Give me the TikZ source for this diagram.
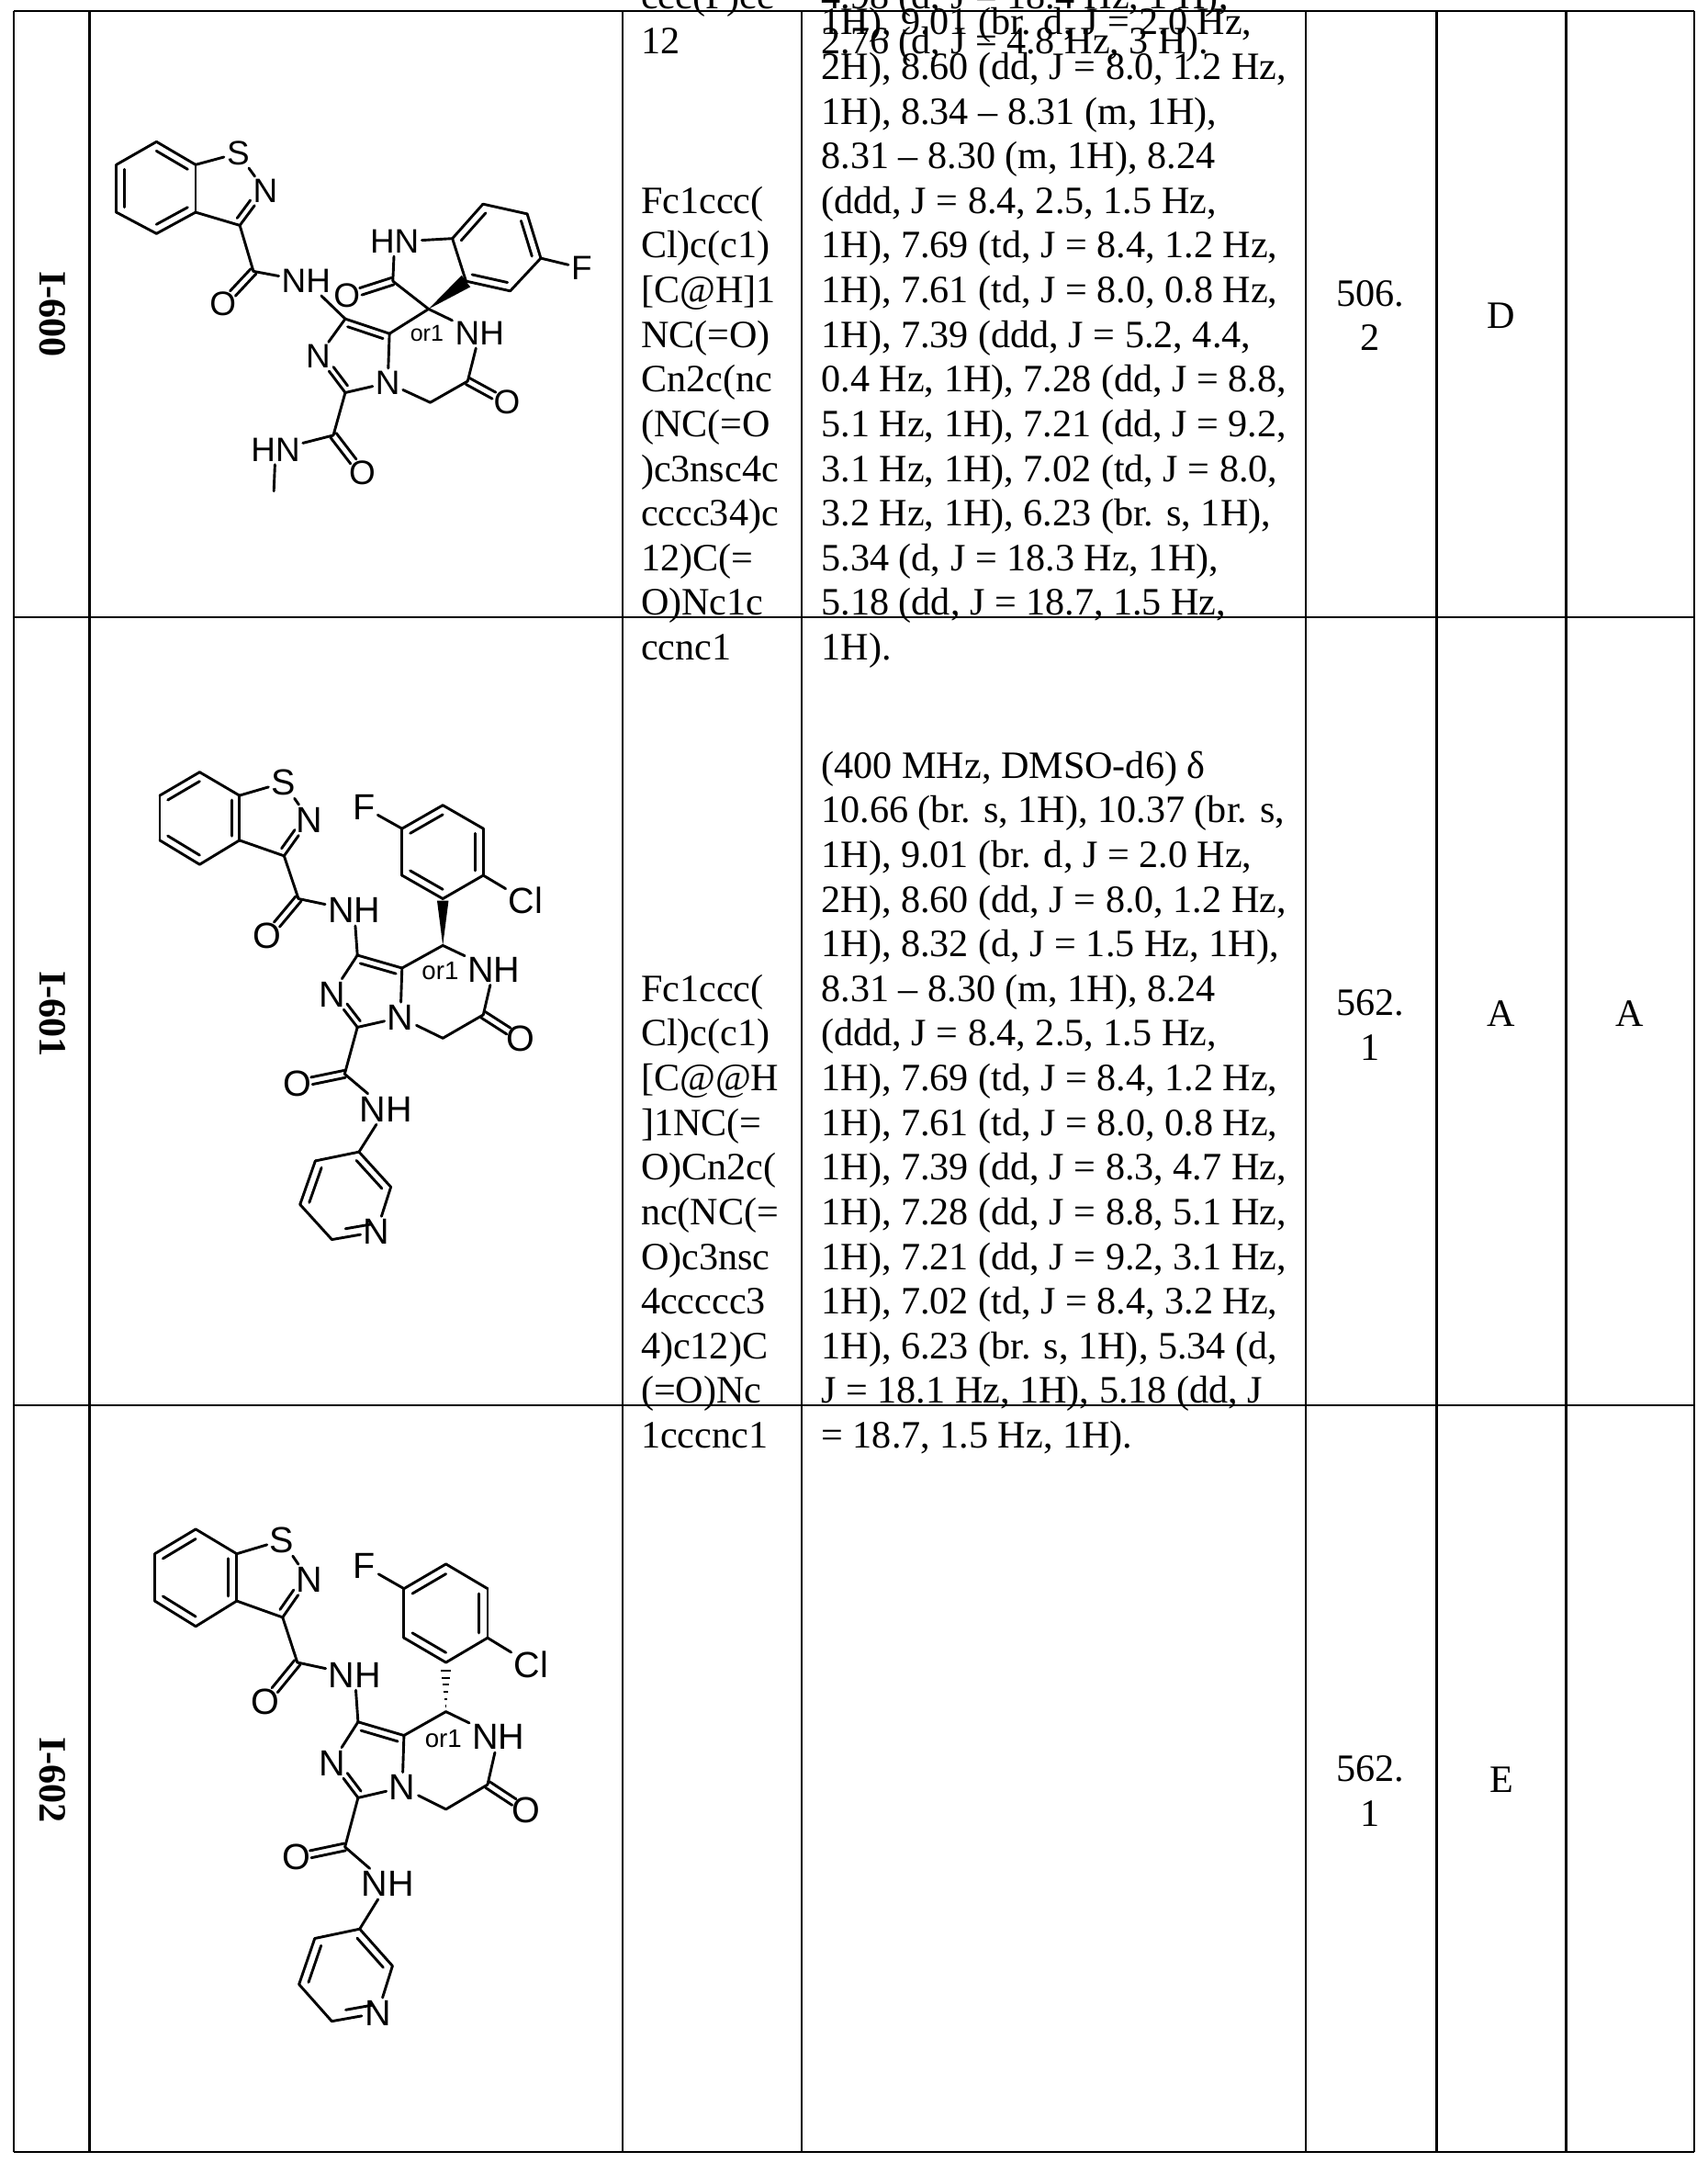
\documentclass[tikz,border=0pt]{standalone}
\usepackage{fontspec}
\setmainfont{Liberation Serif}
\newfontfamily\atomfont{Liberation Sans}
\usetikzlibrary{calc}
\usetikzlibrary{positioning}

% bonds of the structures
\newcommand{\bnd}[2]{\draw[bond line] (#1) -- (#2);}
\newcommand{\ringdbl}[5]{\draw[bond line] (#1) -- (#2);
  \coordinate (ia) at ($(#1)!0.2!(#3)$);
  \coordinate (ib) at ($(#2)!0.2!(#3)$);
  \draw[bond line] ($(ia)!#4!(ib)$) -- ($(ia)!#5!(ib)$);}
\newcommand{\chaindbl}[2]{%
  \draw[bond line, shorten >=6pt] ($(#1)!1.5pt!90:(#2)$) -- ($(#2)!1.5pt!-90:(#1)$);
  \draw[bond line, shorten >=6pt] ($(#1)!1.5pt!-90:(#2)$) -- ($(#2)!1.5pt!90:(#1)$);}

% the structure of rows 2 and 3 (without the stereo bond)
\newcommand{\molB}{%
\coordinate (b1) at (205,235); \coordinate (b2) at (330,295);
\coordinate (b3) at (330,410); \coordinate (b4) at (205,472);
\coordinate (b5) at (80,410);  \coordinate (b6) at (80,295);
\coordinate (bc) at (205,353);
\node[atom] (S) at (468,262) {S};
\node[atom] (N1) at (550,358) {N};
\coordinate (c3) at (470,450); \coordinate (ic) at (430,355);
\coordinate (am) at (515,560);
\node[atom] (O1) at (418,655) {O};
\node[atom] (NH1) at (690,590) {NH};
\coordinate (c8) at (700,705); \coordinate (c8a) at (840,738);
\node[atom] (N3) at (620,805) {N};
\coordinate (c3i) at (700,890);
\node[atom] (N4) at (835,865) {N};
\coordinate (ch2) at (968,918); \coordinate (c6) at (1095,858);
\node[atom] (O2) at (1213,920) {O};
\node[atom] (NH2) at (1128,742) {NH};
\coordinate (c7) at (968,680); \coordinate (imc) at (745,810);
\node[stereo] at (960,745) {or1};
\coordinate (r1) at (968,560); \coordinate (r2) at (1095,500);
\coordinate (r3) at (1095,380); \coordinate (r4) at (968,320);
\coordinate (r5) at (840,380); \coordinate (r6) at (840,500);
\coordinate (rc) at (968,440);
\node[atom] (F) at (720,325) {F};
\node[atom] (Cl) at (1228,565) {Cl};
\coordinate (am2) at (660,1010);
\node[atom] (O3) at (512,1035) {O};
\node[atom] (NH3) at (790,1100) {NH};
\coordinate (p1) at (705,1210); \coordinate (p2) at (805,1300);
\node[atom] (N5) at (760,1415) {N};
\coordinate (p6) at (620,1435); \coordinate (p5) at (520,1345);
\coordinate (p4) at (568,1233); \coordinate (pc) at (665,1320);
\ringdbl{b6}{b1}{bc}{0}{1} \bnd{b1}{b2} \ringdbl{b2}{b3}{bc}{0}{1}
\bnd{b3}{b4} \ringdbl{b4}{b5}{bc}{0}{1} \bnd{b5}{b6}
\bnd{b2}{S} \bnd{S}{N1} \ringdbl{N1}{c3}{ic}{0.35}{1} \bnd{c3}{b3}
\bnd{c3}{am} \chaindbl{am}{O1} \bnd{am}{NH1} \bnd{NH1}{c8}
\ringdbl{c8}{c8a}{imc}{0}{1} \bnd{c8}{N3} \ringdbl{N3}{c3i}{imc}{0.35}{1}
\bnd{c3i}{N4} \bnd{N4}{c8a} \bnd{N4}{ch2} \bnd{ch2}{c6} \chaindbl{c6}{O2}
\bnd{c6}{NH2} \bnd{NH2}{c7} \bnd{c7}{c8a}
\bnd{r1}{r2} \ringdbl{r2}{r3}{rc}{0}{1} \bnd{r3}{r4} \ringdbl{r4}{r5}{rc}{0}{1}
\bnd{r5}{r6} \ringdbl{r6}{r1}{rc}{0}{1} \bnd{r5}{F} \bnd{r2}{Cl}
\bnd{c3i}{am2} \chaindbl{am2}{O3} \bnd{am2}{NH3} \bnd{NH3}{p1}
\ringdbl{p1}{p2}{pc}{0}{1} \bnd{p2}{N5} \ringdbl{N5}{p6}{pc}{0}{0.7}
\bnd{p6}{p5} \ringdbl{p5}{p4}{pc}{0}{1} \bnd{p4}{p1}
}

\begin{document}
\begin{tikzpicture}[
    x=0.02cm, y=-0.02cm,
    table line/.style={line width=1.1pt},
    bond line/.style={line width=1.1pt, line cap=round},
    atom/.style={font=\atomfont\fontsize{15}{15}\selectfont, inner sep=1pt},
    stereo/.style={font=\atomfont\fontsize{10.5}{10.5}\selectfont, inner sep=0pt},
    cell/.style={anchor=base west, align=left, inner sep=0pt,
      font=\fontsize{16}{18.45}\selectfont},
    value/.style={align=center, inner sep=0pt, font=\fontsize{16}{18.45}\selectfont},
    idlabel/.style={rotate=-90, font=\bfseries\fontsize{16}{18}\selectfont}
    ]
\useasboundingbox[fill=white] (0,0) rectangle (1240,1570);

% table
\foreach \xc in {10,65,452,582,948,1043,1137,1230}
  \draw[table line] (\xc,8) -- (\xc,1562);
\foreach \yc in {8,448,1020,1562}
  \draw[table line] (10,\yc) -- (1230,\yc);

% ids and values
\node[idlabel] (id600) at (38,228) {I-600};
\node[idlabel] (id601) at (38,736) {I-601};
\node[idlabel] (id602) at (38,1292) {I-602};
\node[value] (ms600) at (995,229) {506.\\2};
\node[value] (ms601) at (995,744) {562.\\1};
\node[value] (ms602) at (995,1300) {562.\\1};
\node[value] (act600) at (1090,229) {D};
\node[value] (act601) at (1090,736) {A};
\node[value] (act602) at (1090,1292) {E};
\node[value] (sel601) at (1183,736) {A};

% smiles
\node[cell] (smi600) at (465,39) {CNC(=\\O)c1nc(\\NC(=O)\\c2nsc3c\\cccc23)c\\2n1CC(\\=O)N[C\\@]21C(\\=O)Nc2\\ccc(F)cc\\12};
\node[cell] (smi601) at (465,479) {Fc1ccc(\\Cl)c(c1)\\{}[C@H]1\\NC(=O)\\Cn2c(nc\\(NC(=O\\)c3nsc4c\\cccc34)c\\12)C(=\\O)Nc1c\\ccnc1};
\node[cell] (smi602) at (465,1051) {Fc1ccc(\\Cl)c(c1)\\{}[C@@H\\]1NC(=\\O)Cn2c(\\nc(NC(=\\O)c3nsc\\4ccccc3\\4)c12)C\\(=O)Nc\\1cccnc1};

% nmr
\node[cell] (nmr600) at (596,39) {(400 MHz, DMSO-d6) δ\\10.74 (br s, 1 H), 9.95 (s, 1\\H), 9.14 (s, 1 H), 8.59 (q, J =\\4.5 Hz, 1 H), 8.53 (d, J = 8.2\\Hz, 1 H), 8.26 (d, J = 8.2 Hz,\\1 H), 7.68 – 7.63 (m, 1 H),\\7.59 – 7.53 (m, 1 H), 7.08\\(dd, J = 8.0, 2.6 Hz, 1 H),\\6.49 (td, J = 9.4, 2.7 Hz, 1 H),\\6.33 (dd, J = 8.5, 4.3 Hz, 1\\H), 5.48 (d, J = 18.4 Hz, 1 H),\\4.98 (d, J = 18.4 Hz, 1 H),\\2.76 (d, J = 4.8 Hz, 3 H).};
\node[cell] (nmr601) at (596,479) {(400 MHz, DMSO-d6) δ\\10.66 (br. s, 1H), 10.37 (br. s,\\1H), 9.01 (br. d, J = 2.0 Hz,\\2H), 8.60 (dd, J = 8.0, 1.2 Hz,\\1H), 8.34 – 8.31 (m, 1H),\\8.31 – 8.30 (m, 1H), 8.24\\(ddd, J = 8.4, 2.5, 1.5 Hz,\\1H), 7.69 (td, J = 8.4, 1.2 Hz,\\1H), 7.61 (td, J = 8.0, 0.8 Hz,\\1H), 7.39 (ddd, J = 5.2, 4.4,\\0.4 Hz, 1H), 7.28 (dd, J = 8.8,\\5.1 Hz, 1H), 7.21 (dd, J = 9.2,\\3.1 Hz, 1H), 7.02 (td, J = 8.0,\\3.2 Hz, 1H), 6.23 (br. s, 1H),\\5.34 (d, J = 18.3 Hz, 1H),\\5.18 (dd, J = 18.7, 1.5 Hz,\\1H).};
\node[cell] (nmr602) at (596,1051) {(400 MHz, DMSO-d6) δ\\10.66 (br. s, 1H), 10.37 (br. s,\\1H), 9.01 (br. d, J = 2.0 Hz,\\2H), 8.60 (dd, J = 8.0, 1.2 Hz,\\1H), 8.32 (d, J = 1.5 Hz, 1H),\\8.31 – 8.30 (m, 1H), 8.24\\(ddd, J = 8.4, 2.5, 1.5 Hz,\\1H), 7.69 (td, J = 8.4, 1.2 Hz,\\1H), 7.61 (td, J = 8.0, 0.8 Hz,\\1H), 7.39 (dd, J = 8.3, 4.7 Hz,\\1H), 7.28 (dd, J = 8.8, 5.1 Hz,\\1H), 7.21 (dd, J = 9.2, 3.1 Hz,\\1H), 7.02 (td, J = 8.4, 3.2 Hz,\\1H), 6.23 (br. s, 1H), 5.34 (d,\\J = 18.1 Hz, 1H), 5.18 (dd, J\\= 18.7, 1.5 Hz, 1H).};

% structure of I-600
\begin{scope}[shift={(66.7,26.7)}, x=0.02cm/4.05, y=-0.02cm/4.2,
    atom/.style={font=\atomfont\fontsize{14}{14}\selectfont, inner sep=1pt},
    stereo/.style={font=\atomfont\fontsize{9.5}{9.5}\selectfont, inner sep=0pt}]
\coordinate (a1) at (190,320); \coordinate (a2) at (305,390);
\coordinate (a3) at (305,535); \coordinate (a4) at (190,600);
\coordinate (a5) at (72,535);  \coordinate (a6) at (72,390);
\coordinate (a0) at (188,460);
\node[atom] (S) at (430,355) {S};
\node[atom] (N1) at (510,470) {N};
\coordinate (c3) at (435,575); \coordinate (ic) at (395,465);
\coordinate (am) at (475,715);
\node[atom] (O1) at (385,815) {O};
\node[atom] (NH1) at (630,745) {NH};
\coordinate (c8) at (745,860); \coordinate (c8a) at (875,905);
\node[atom] (N3) at (665,975) {N};
\coordinate (c3i) at (745,1085);
\node[atom] (N4) at (870,1055) {N};
\coordinate (ch2) at (995,1115); \coordinate (c6) at (1105,1050);
\node[atom] (O2) at (1220,1115) {O};
\node[atom] (NH2) at (1140,905) {NH};
\coordinate (sp) at (990,830); \coordinate (imc) at (780,980);
\node[stereo] at (985,905) {or1};
\coordinate (c2) at (885,745);
\node[atom] (O3) at (750,790) {O};
\node[atom] (HN) at (890,625) {HN};
\coordinate (c7a) at (1060,615); \coordinate (c7) at (1150,510);
\coordinate (c6b) at (1280,540); \coordinate (c5) at (1320,675);
\node[atom] (F) at (1440,705) {F};
\coordinate (c4) at (1230,775); \coordinate (c3a) at (1100,745);
\coordinate (bz) at (1190,645);
\coordinate (am2) at (710,1215);
\node[atom] (O4) at (795,1330) {O};
\node[atom] (HN2) at (540,1260) {HN};
\coordinate (me) at (535,1385);
\ringdbl{a1}{a2}{a0}{0}{1} \bnd{a2}{a3} \ringdbl{a3}{a4}{a0}{0}{1}
\bnd{a4}{a5} \ringdbl{a5}{a6}{a0}{0}{1} \bnd{a6}{a1}
\bnd{a2}{S} \bnd{S}{N1} \ringdbl{N1}{c3}{ic}{0.35}{1} \bnd{c3}{a3}
\bnd{c3}{am} \chaindbl{am}{O1} \bnd{am}{NH1} \bnd{NH1}{c8}
\ringdbl{c8}{c8a}{imc}{0}{1} \bnd{c8}{N3} \ringdbl{N3}{c3i}{imc}{0.35}{1}
\bnd{c3i}{N4} \bnd{N4}{c8a} \bnd{N4}{ch2} \bnd{ch2}{c6} \chaindbl{c6}{O2}
\bnd{c6}{NH2} \bnd{NH2}{sp} \bnd{sp}{c8a}
\bnd{sp}{c2} \chaindbl{c2}{O3} \bnd{c2}{HN} \bnd{HN}{c7a} \bnd{c7a}{c3a}
\ringdbl{c7a}{c7}{bz}{0}{1} \bnd{c7}{c6b} \ringdbl{c6b}{c5}{bz}{0}{1}
\bnd{c5}{c4} \ringdbl{c4}{c3a}{bz}{0}{1} \bnd{c5}{F}
\fill (sp) -- ($(c3a)!3pt!90:(sp)$) -- ($(c3a)!3pt!-90:(sp)$) -- cycle;
\bnd{c3i}{am2} \chaindbl{am2}{O4} \bnd{am2}{HN2} \bnd{HN2}{me}
\end{scope}

% structure of I-601
\begin{scope}[shift={(97.5,494)}, x=0.02cm*0.972/4.2, y=-0.02cm*0.95/3.36]
\molB
\fill (968,680) -- (950,565) -- (986,565) -- cycle;
\end{scope}

% structure of I-602
\begin{scope}[shift={(93.3,1040)}, x=0.02cm/4.2, y=-0.02cm/3.36]
\molB
\foreach \t in {0.12,0.27,0.42,0.57,0.72,0.87}
  \draw[line width=0.8pt] ($(968,680)!\t!(968,565)$) ++({-18*\t},0) -- ++({36*\t},0);
\end{scope}

\end{tikzpicture}
\end{document}
